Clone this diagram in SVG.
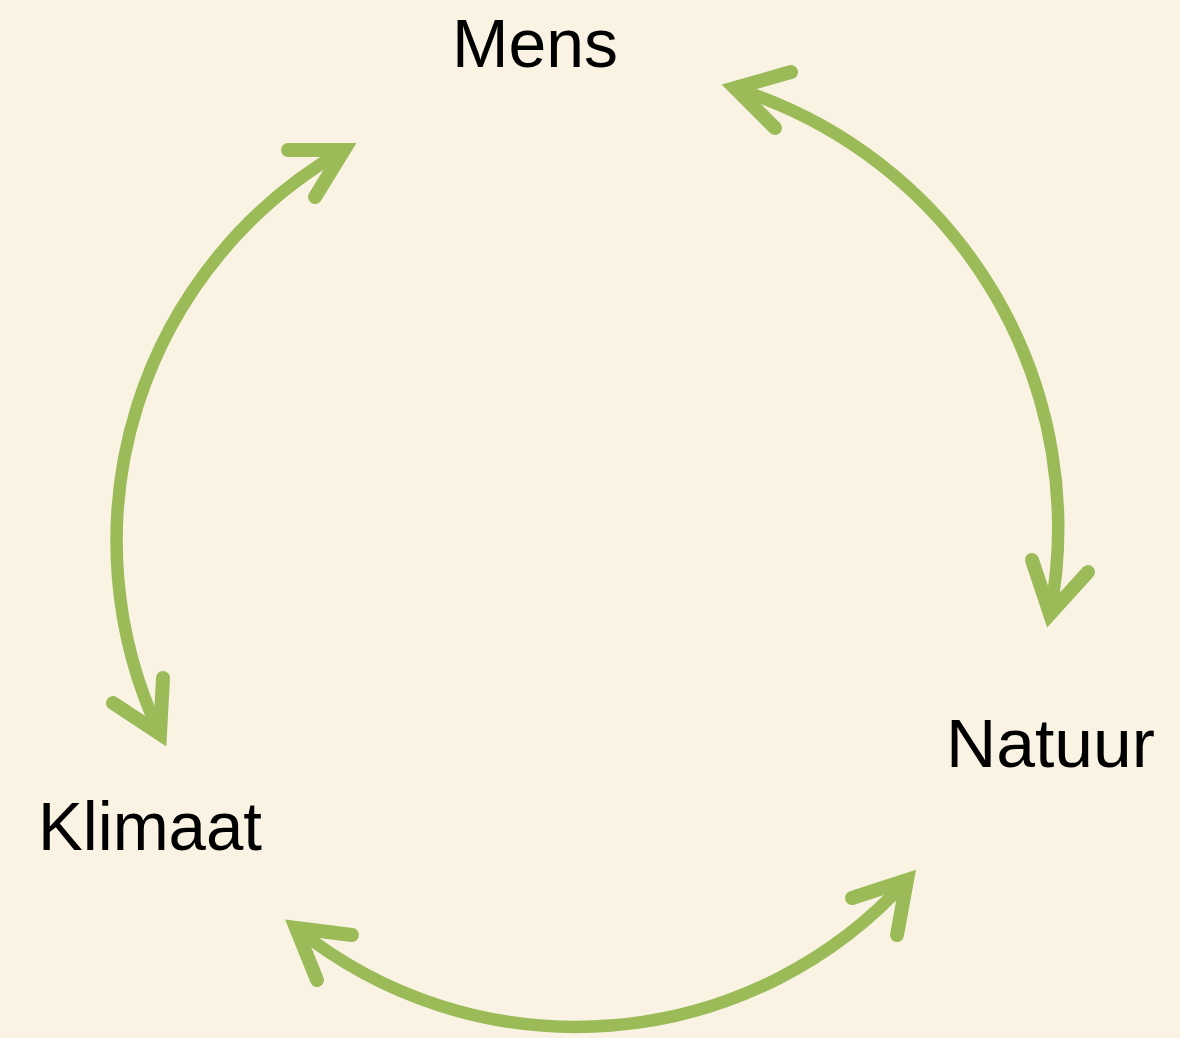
<svg xmlns="http://www.w3.org/2000/svg" width="1180" height="1038" viewBox="0 0 1180 1038">
<style>
.lbl{font-family:"Liberation Sans",Arial,sans-serif;font-size:68px;fill:#000}
.arc{fill:none;stroke:#9BBB59;stroke-width:12.5}
.head{fill:none;stroke:#9BBB59;stroke-width:14;stroke-linejoin:miter;stroke-linecap:round;stroke-miterlimit:10}
</style>
<rect width="1180" height="1038" fill="#FAF3E4"/>
<g id="mens"><text class="lbl" x="452" y="67" textLength="166" lengthAdjust="spacingAndGlyphs">Mens</text></g>
<g id="natuur"><text class="lbl" x="946" y="767" textLength="209" lengthAdjust="spacingAndGlyphs">Natuur</text></g>
<g id="klimaat"><text class="lbl" x="38" y="850" textLength="224" lengthAdjust="spacingAndGlyphs">Klimaat</text></g>
<g id="connectors">
<path class="arc" d="M 737 89 A 460 460 0 0 1 1050 614"/>
<polyline class="head" points="791,72 735,88 775,128"/>
<polyline class="head" points="1032,560 1050,614 1088,572"/>
<path class="arc" d="M 344 150 A 450 450 0 0 0 160 734"/>
<polyline class="head" points="288,150 344,150 315,197"/>
<polyline class="head" points="113,703 160,734 163,678"/>
<path class="arc" d="M 296 928 A 446 446 0 0 0 907 880"/>
<polyline class="head" points="352,935 296,928 317,980"/>
<polyline class="head" points="852,898 907,880 897,935"/>
</g>
</svg>
